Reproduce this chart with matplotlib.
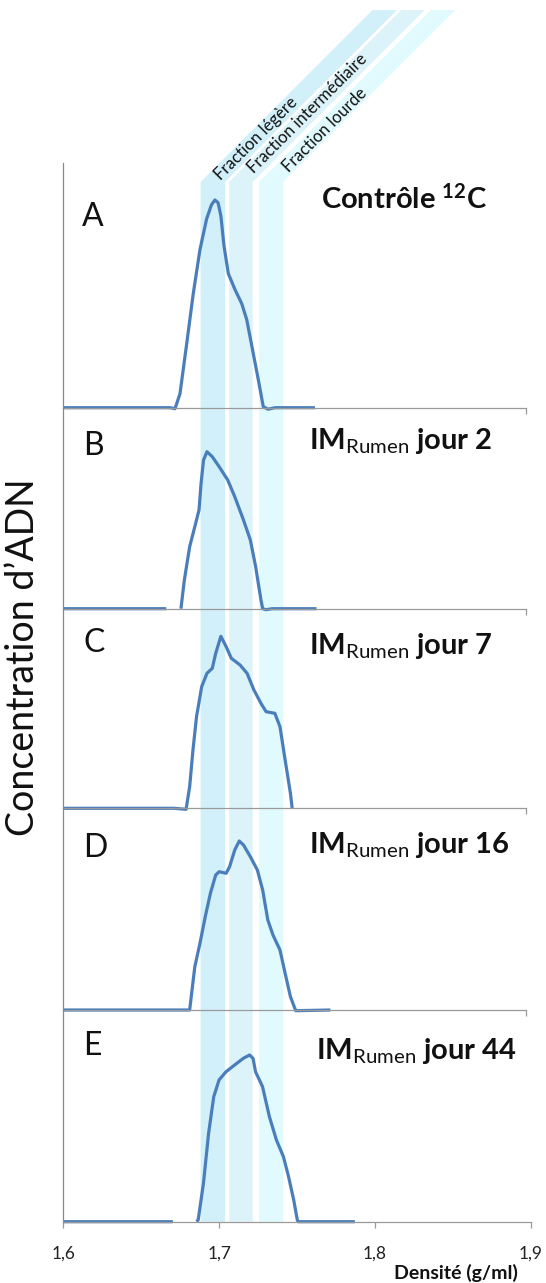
import matplotlib
matplotlib.use("Agg")
import matplotlib.pyplot as plt
import matplotlib.patches as patches
import numpy as np

plt.rcParams['font.family'] = ['Lato', 'DejaVu Sans']
plt.rcParams['mathtext.fontset'] = 'custom'
plt.rcParams['mathtext.rm'] = 'Lato'
plt.rcParams['mathtext.bf'] = 'Lato:bold'
plt.rcParams['mathtext.it'] = 'Lato:italic'

# --- data (density g/ml, DNA concentration in arbitrary units) ---
dens_A = [1.600, 1.6684, 1.6716, 1.6748, 1.6791, 1.6833, 1.6876, 1.6919, 1.6950, 1.6972, 1.6992,
          1.7010, 1.7030, 1.7058, 1.7101, 1.7144, 1.7176, 1.7218, 1.7250, 1.7282, 1.7312, 1.7357, 1.7613]
conc_A = [0, 0, -1, 14, 64, 114, 158, 189, 203, 207.7, 205,
          192, 162, 134, 118, 104, 88, 54, 28, 1, -1.5, 0, 0]

dens_B = [1.600, 1.666, 1.6700, 1.6754, 1.6776, 1.681, 1.6843, 1.687, 1.6883, 1.6899, 1.6921, 1.6955,
          1.6999, 1.7054, 1.7099, 1.7155, 1.7199, 1.7233, 1.7267, 1.7278, 1.7300, 1.7340, 1.7623]
conc_B = [0, 0, np.nan, 0, 28.7, 62, 82, 98.7, 125, 148.7, 157, 152,
          142, 128.7, 112, 88.7, 68.7, 42, 8.7, 0, -1, 0, 0]

dens_C = [1.600, 1.6709, 1.6787, 1.681, 1.6831, 1.6854, 1.6887, 1.6921, 1.6955, 1.6977, 1.701, 1.7044,
          1.7077, 1.7133, 1.7178, 1.7222, 1.7267, 1.730, 1.7356, 1.7389, 1.7422, 1.7456, 1.7467]
conc_C = [0, 0, -1, 21.6, 58, 91.6, 121.6, 135, 140, 155, 172, 161.6,
          150, 143.3, 135, 118.3, 105, 96.6, 95, 81.6, 48.3, 15, 0]

dens_D = [1.600, 1.6776, 1.681, 1.6843, 1.6876, 1.691, 1.6943, 1.6977, 1.6999, 1.7044, 1.7066, 1.7099,
          1.7128, 1.7155, 1.7199, 1.7244, 1.7278, 1.7311, 1.7344, 1.7389, 1.7422, 1.7456, 1.749, 1.7712]
conc_D = [0, 0, 0, 43.3, 66.7, 93.3, 116.7, 135, 138.3, 136.7, 143.3, 160,
          169, 165, 153.3, 140, 120, 90, 75, 60, 36.7, 13.3, -0.7, 0]

dens_E = [1.600, 1.6703, 1.6780, 1.6855, 1.6865, 1.6899, 1.6932, 1.6965, 1.6999, 1.7044, 1.7099, 1.7155,
          1.7195, 1.7217, 1.7233, 1.7278, 1.7322, 1.7367, 1.7412, 1.7445, 1.7478, 1.7501, 1.7506, 1.787]
conc_E = [0, 0, np.nan, 0, 1.7, 38.4, 88.4, 125, 141.7, 150, 156.7, 163.4,
          166.7, 163.4, 150, 135, 105, 81.7, 65, 45, 21.7, 1.7, 0, 0]

panel_letters = ['A', 'B', 'C', 'D', 'E']
panel_titles = ['Contrôle $\\mathbf{^{12}}$C',
                'IM$_{\\mathrm{Rumen}}$ jour 2',
                'IM$_{\\mathrm{Rumen}}$ jour 7',
                'IM$_{\\mathrm{Rumen}}$ jour 16',
                'IM$_{\\mathrm{Rumen}}$ jour 44']

band_names = ['Fraction légère', 'Fraction intermédiaire', 'Fraction lourde']
band_lo = [1.6880, 1.7064, 1.7255]
band_hi = [1.7037, 1.7214, 1.7410]
band_colors = ['#d1f0fa', '#dcf3fa', '#e0fafd']

xticks = [1.6, 1.7, 1.8, 1.9]
xtick_labels = ['1,6', '1,7', '1,8', '1,9']

# --- layout (pixels) ---
W, H = 546, 1283
X0 = 63.3             # pixel of 1.6
PX_PER_UNIT = 1560.0  # pixels per g/ml
tops = [163, 407.7, 608.7, 808.3, 1010]
bases = [407.7, 608.7, 808.3, 1010, 1221.7]
rights = [525.5, 525.5, 525.5, 525.5, 531]
line_color = '#4a7ebb'
axis_color = '#9a9a9a'


def to_px(d):
    return X0 + (d - 1.6) * PX_PER_UNIT


fig = plt.figure(figsize=(W / 100, H / 100), dpi=100)

# background overlay in pixel coords for the shaded fractions
bg = fig.add_axes([0, 0, 1, 1], zorder=0)
bg.set_xlim(0, W)
bg.set_ylim(H, 0)
bg.axis('off')

bend_y = 182
top_y = 10
for lo, hi, col in zip(band_lo, band_hi, band_colors):
    x1, x2 = to_px(lo), to_px(hi)
    shift = bend_y - top_y
    poly = [[x1, bases[-1]], [x2, bases[-1]], [x2, bend_y], [x2 + shift, top_y],
            [x1 + shift, top_y], [x1, bend_y]]
    bg.add_patch(patches.Polygon(poly, closed=True, facecolor=col, edgecolor='none'))

label_centers = [(256, 139), (308, 113), (325, 130)]
for name, (cx, cy) in zip(band_names, label_centers):
    bg.text(cx, cy, name, rotation=45, rotation_mode='anchor', ha='center', va='center',
            fontsize=12, color='#111111')

series = [(dens_A, conc_A), (dens_B, conc_B), (dens_C, conc_C), (dens_D, conc_D), (dens_E, conc_E)]
letter_pos = [(82, 225.7), (83.5, 455), (83.5, 651.7), (83.5, 856.7), (83.5, 1055)]
title_pos = [(321, 209), (309, 449.3), (309, 654), (309, 853.3), (316.5, 1059.3)]

for i, (dens, conc) in enumerate(series):
    top, base, right = tops[i], bases[i], rights[i]
    ax = fig.add_axes([X0 / W, (H - base) / H, (right - X0) / W, (base - top) / H], zorder=1)
    ax.set_facecolor('none')
    ax.set_xlim(1.6, 1.6 + (right - X0) / PX_PER_UNIT)
    ax.set_ylim(0, base - top)
    ax.plot(dens, conc, color=line_color, linewidth=2.3, solid_joinstyle='round',
            solid_capstyle='butt', clip_on=False)
    for s in ['top', 'right']:
        ax.spines[s].set_visible(False)
    ax.spines['left'].set_color('#888888')
    ax.spines['bottom'].set_color(axis_color)
    ax.spines['left'].set_linewidth(0.9)
    ax.spines['bottom'].set_linewidth(0.9)
    ax.set_yticks([])
    ax.tick_params(axis='x', direction='out', length=4, width=0.9, color=axis_color)
    if i < 4:
        ax.set_xticks([1.6 + (right - X0) / PX_PER_UNIT])
        ax.set_xticklabels([])
    else:
        ax.set_xticks(xticks)
        ax.set_xticklabels(xtick_labels, fontsize=12.5, color='#222222')
        ax.tick_params(axis='x', pad=13)

    lx, ly = letter_pos[i]
    bg.text(lx, ly, panel_letters[i], fontsize=23, ha='left', va='baseline', color='#111111')
    tx, ty = title_pos[i]
    bg.text(tx, ty, panel_titles[i], fontsize=21, fontweight='bold', ha='left', va='baseline',
            color='#111111')

bg.text(23, 657, 'Concentration d\u2019ADN', rotation=90, fontsize=27, ha='center', va='center',
        color='#111111')
bg.text(518, 1279, 'Densité (g/ml)', fontsize=14, fontweight='bold', ha='right', va='baseline',
        color='#111111')

fig.savefig('out.png', dpi=100)
